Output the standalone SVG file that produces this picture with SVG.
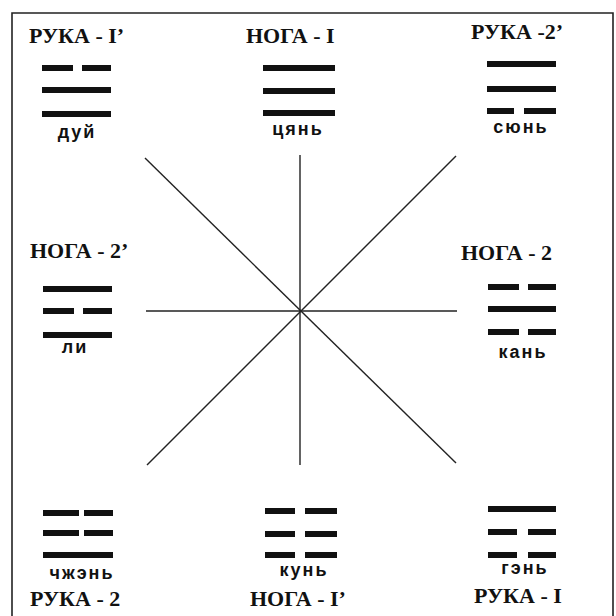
<svg xmlns="http://www.w3.org/2000/svg" width="616" height="616" viewBox="0 0 616 616">
<style>
.hdr{font-family:"Liberation Serif","Times New Roman",serif;font-weight:bold;font-size:22px;fill:#111}
.nm{font-family:"Liberation Sans",Arial,sans-serif;font-weight:bold;font-size:18px;letter-spacing:2px;fill:#111;text-anchor:middle}
.bar{fill:#111}
.ray{stroke:#222;stroke-width:1.4;fill:none}
.frame{stroke:#222;stroke-width:1.6;fill:none}
</style>
<rect width="616" height="616" fill="#ffffff"/>
<path class="frame" d="M12,616 V13 H613 V616"/>
<g id="connectors">
<line class="ray" x1="300" y1="155" x2="300" y2="465"/>
<line class="ray" x1="146" y1="311" x2="457" y2="311"/>
<line class="ray" x1="145" y1="158" x2="456" y2="463"/>
<line class="ray" x1="456" y1="156" x2="147" y2="465"/>
</g>
<g id="dui">
<text class="hdr" x="29" y="43">РУКА - I’</text>
<rect class="bar" x="42" y="65" width="31" height="6"/><rect class="bar" x="82" y="65" width="29" height="6"/>
<rect class="bar" x="42" y="87" width="69" height="6"/>
<rect class="bar" x="42" y="111" width="69" height="6"/>
<text class="nm" x="77" y="138">дуй</text>
</g>
<g id="qian">
<text class="hdr" x="246" y="43">НОГА - I</text>
<rect class="bar" x="263" y="65" width="72" height="6"/>
<rect class="bar" x="263" y="88" width="72" height="6"/>
<rect class="bar" x="263" y="110" width="72" height="6"/>
<text class="nm" x="298" y="135">цянь</text>
</g>
<g id="xun">
<text class="hdr" x="471" y="39">РУКА -2’</text>
<rect class="bar" x="487" y="61" width="69" height="6"/>
<rect class="bar" x="487" y="86" width="69" height="6"/>
<rect class="bar" x="487" y="108" width="27" height="6"/><rect class="bar" x="524" y="108" width="32" height="6"/>
<text class="nm" x="521" y="133">сюнь</text>
</g>
<g id="li">
<text class="hdr" x="30" y="258">НОГА - 2’</text>
<rect class="bar" x="43" y="286" width="69" height="6"/>
<rect class="bar" x="43" y="308" width="31" height="6"/><rect class="bar" x="83" y="308" width="29" height="6"/>
<rect class="bar" x="43" y="332" width="69" height="6"/>
<text class="nm" x="75" y="353">ли</text>
</g>
<g id="kan">
<text class="hdr" x="461" y="260">НОГА - 2</text>
<rect class="bar" x="488" y="284" width="31" height="6"/><rect class="bar" x="528" y="284" width="28" height="6"/>
<rect class="bar" x="488" y="306" width="68" height="6"/>
<rect class="bar" x="488" y="329" width="31" height="6"/><rect class="bar" x="528" y="329" width="28" height="6"/>
<text class="nm" x="523" y="358">кань</text>
</g>
<g id="zhen">
<rect class="bar" x="43" y="510" width="36" height="6"/><rect class="bar" x="84" y="510" width="29" height="6"/>
<rect class="bar" x="43" y="530" width="36" height="6"/><rect class="bar" x="84" y="530" width="29" height="6"/>
<rect class="bar" x="43" y="552" width="70" height="6"/>
<text class="nm" x="82" y="579">чжэнь</text>
<text class="hdr" x="30" y="606">РУКА - 2</text>
</g>
<g id="kun">
<rect class="bar" x="265" y="508" width="30" height="6"/><rect class="bar" x="305" y="508" width="32" height="6"/>
<rect class="bar" x="265" y="531" width="30" height="6"/><rect class="bar" x="305" y="531" width="32" height="6"/>
<rect class="bar" x="265" y="552" width="30" height="6"/><rect class="bar" x="305" y="552" width="32" height="6"/>
<text class="nm" x="304" y="576">кунь</text>
<text class="hdr" x="250" y="606">НОГА - I’</text>
</g>
<g id="gen">
<rect class="bar" x="488" y="506" width="68" height="6"/>
<rect class="bar" x="488" y="529" width="29" height="6"/><rect class="bar" x="528" y="529" width="28" height="6"/>
<rect class="bar" x="488" y="552" width="29" height="6"/><rect class="bar" x="528" y="552" width="28" height="6"/>
<text class="nm" x="525" y="574">гэнь</text>
<text class="hdr" x="474" y="603">РУКА - I</text>
</g>
</svg>
